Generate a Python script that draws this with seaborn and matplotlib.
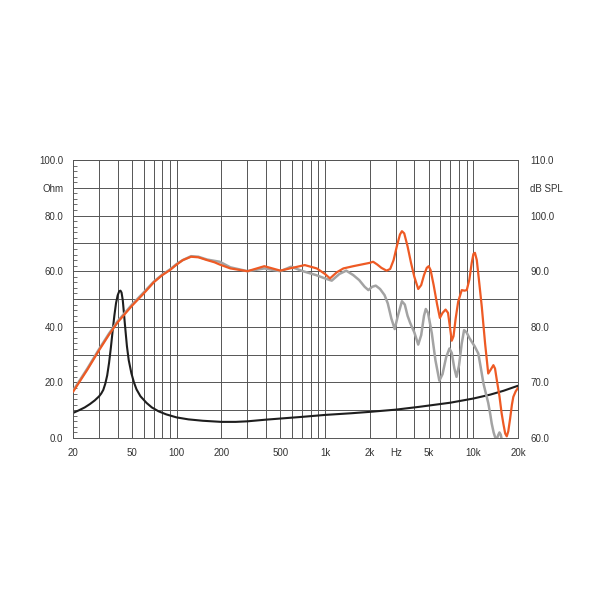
import pandas as pd
import matplotlib
matplotlib.use('Agg')
import matplotlib.pyplot as plt
import seaborn as sns

# impedancia (Ohm)
frec_imp = [20, 22, 24, 26, 28, 30, 31, 32, 33, 34, 35, 36, 37, 38, 39, 40, 41, 41.8, 42.5,
            43.3, 44, 44.7, 45.5, 46.2, 47.5, 49.5, 51.5, 53.6, 57, 62.7, 68, 75.5, 85, 100,
            120, 150, 200, 250, 300, 400, 500, 700, 1000, 1500, 2000, 3000, 4300, 7000,
            10000, 13000, 16000, 20000]
ohm = [9.0, 10.0, 11.0, 12.2, 13.5, 15.0, 16.0, 17.3, 19.5, 22.5, 27.0, 32.5, 38.5, 44.0,
       48.5, 51.3, 52.8, 53.0, 52.3, 49.6, 45.5, 41.3, 36.8, 33.0, 28.0, 23.3, 20.0, 17.5,
       15.0, 12.6, 11.0, 9.6, 8.5, 7.4, 6.7, 6.2, 5.8, 5.8, 6.0, 6.6, 7.0, 7.6, 8.3, 8.9,
       9.4, 10.2, 11.2, 12.7, 14.2, 15.6, 17.0, 18.8]

# respuesta naranja (dB SPL)
frec_nar = [20, 25, 30, 35, 40, 50, 60, 70, 80, 90, 100, 110, 125, 140, 160, 180, 195, 230,
            300, 390, 500, 580, 730, 880, 1000, 1080, 1200, 1330, 1550, 2000, 2110, 2250,
            2400, 2600, 2750, 2900, 3050, 3200, 3300, 3420, 3600, 3800, 4000, 4250, 4450,
            4650, 4850, 5000, 5150, 5400, 5700, 5950, 6200, 6500, 6750, 6950, 7150, 7350,
            7600, 7900, 8350, 8700, 9030, 9400, 9750, 10010, 10250, 10550, 10900, 11400,
            12000, 12600, 13100, 13650, 14000, 14400, 15000, 15500, 15950, 16400, 16800,
            17200, 17700, 18200, 18600, 19300, 20000]
spl_nar = [68.3, 72.3, 75.8, 78.6, 80.8, 83.8, 86.0, 88.0, 89.3, 90.2, 91.2, 92.0, 92.6, 92.5,
           92.0, 91.6, 91.2, 90.5, 90.0, 90.9, 90.1, 90.5, 91.1, 90.5, 89.5, 88.7, 89.8,
           90.5, 90.9, 91.5, 91.7, 91.2, 90.6, 90.1, 90.4, 92.0, 94.5, 96.6, 97.2, 96.8,
           94.5, 91.5, 89.0, 86.8, 87.5, 89.3, 90.6, 90.9, 90.2, 87.5, 84.0, 81.6, 82.5,
           83.1, 82.5, 80.0, 77.5, 78.3, 81.5, 84.5, 86.6, 86.5, 86.6, 88.5, 91.5, 93.1,
           93.3, 92.0, 88.5, 83.6, 77.0, 71.6, 72.3, 73.1, 72.5, 70.4, 67.5, 64.5, 62.5,
           60.8, 60.3, 61.2, 63.5, 66.0, 67.4, 68.4, 69.0]

# respuesta gris (dB SPL)
frec_gris = [20, 25, 30, 35, 40, 50, 60, 70, 80, 90, 100, 110, 125, 140, 160, 195, 230, 300,
             390, 500, 590, 710, 870, 1000, 1110, 1250, 1390, 1550, 1700, 1850, 1960, 2080,
             2200, 2350, 2520, 2650, 2800, 2950, 3100, 3300, 3450, 3600, 3750, 4000, 4250,
             4450, 4650, 4780, 4950, 5250, 5550, 5900, 6200, 6550, 6900, 7150, 7450, 7700,
             8000, 8350, 8660, 9000, 9400, 9760, 10200, 10800, 11200, 11700, 12200, 12600,
             13000, 13300, 13700, 14000, 14400, 14700, 15000, 15300, 15600, 16500, 20000]
spl_gris = [68.5, 72.5, 76.0, 78.8, 81.0, 84.0, 86.2, 88.1, 89.4, 90.3, 91.3, 92.0, 92.7, 92.6,
            92.1, 91.7, 90.7, 90.0, 90.5, 90.0, 90.8, 90.0, 89.3, 88.7, 88.3, 89.5, 90.1,
            89.3, 88.4, 87.2, 86.6, 87.2, 87.4, 86.8, 85.7, 84.2, 81.5, 79.6, 82.0, 84.6,
            84.0, 82.0, 80.7, 79.0, 76.8, 78.5, 82.0, 83.2, 82.5, 78.8, 74.0, 70.3, 71.5,
            74.5, 76.1, 75.3, 72.5, 71.0, 73.0, 77.0, 79.4, 79.0, 78.0, 77.3, 76.5, 75.2,
            72.8, 69.8, 67.8, 66.3, 64.3, 62.6, 61.0, 60.2, 59.8, 60.5, 61.0, 60.6, 59.5,
            57.0, 54.0]

# ejes
grid_x = [20, 30, 40, 50, 60, 70, 80, 90, 100, 200, 300, 400, 500, 600, 700, 800, 900,
          1000, 2000, 3000, 4000, 5000, 6000, 7000, 8000, 9000, 10000, 20000]
etiquetas_x = {20: '20', 50: '50', 100: '100', 200: '200', 500: '500', 1000: '1k',
               2000: '2k', 3000: 'Hz', 5000: '5k', 10000: '10k', 20000: '20k'}
etiquetas_izq = {0: '0.0', 20: '20.0', 40: '40.0', 60: '60.0', 80: '80.0', 90: 'Ohm', 100: '100.0'}
etiquetas_der = {60: '60.0', 70: '70.0', 80: '80.0', 90: '90.0', 100: '100.0', 105: 'dB SPL', 110: '110.0'}

sns.set_style('white')
plt.rcParams['font.family'] = ['Liberation Sans', 'DejaVu Sans']

df_imp = pd.DataFrame({'frec': frec_imp, 'valor': ohm})
df_nar = pd.DataFrame({'frec': frec_nar, 'valor': spl_nar})
df_gris = pd.DataFrame({'frec': frec_gris, 'valor': spl_gris})

fig = plt.figure(figsize=(6.05, 6.05), dpi=100)
ax = fig.add_axes([73 / 605, 1 - 438 / 605, 445 / 605, 278 / 605])
ax2 = ax.twinx()

color_grid = '#555555'
color_txt = '#333333'

ax.set_xscale('log')
ax.set_xlim(20, 20000)
ax.set_ylim(0, 100)
ax.set_xticks(grid_x)
ax.set_xticks([], minor=True)
ax.set_xticklabels([etiquetas_x.get(f, '') for f in grid_x])
ax.set_yticks(list(range(0, 101, 10)))
ax.set_yticklabels([etiquetas_izq.get(v, '') for v in range(0, 101, 10)])
ax.set_yticks(list(range(0, 101, 2)), minor=True)
ax.grid(True, which='major', color=color_grid, lw=0.7)
ax.tick_params(axis='x', which='major', length=3, color=color_grid, labelsize=7,
               labelcolor=color_txt, pad=4)
ax.tick_params(axis='y', which='major', length=0, labelsize=7, labelcolor=color_txt, pad=7)
ax.tick_params(axis='y', which='minor', length=3, direction='in', color=color_grid, width=0.6)
for s in ax.spines.values():
    s.set_color(color_grid)
    s.set_linewidth(0.7)

sns.lineplot(data=df_imp, x='frec', y='valor', ax=ax, color='#1e1e1e', lw=1.5, sort=False)
ax.set_xlabel('')
ax.set_ylabel('')

sns.lineplot(data=df_gris, x='frec', y='valor', ax=ax2, color='#a3a3a3', lw=1.8, sort=False)
sns.lineplot(data=df_nar, x='frec', y='valor', ax=ax2, color='#ee5a24', lw=1.6, sort=False)
ax2.set_ylim(60, 110)
ax2.set_xlim(20, 20000)
ax2.set_yticks(list(range(60, 111, 5)))
ax2.set_yticklabels([etiquetas_der.get(v, '') for v in range(60, 111, 5)])
ax2.tick_params(axis='y', length=0, labelsize=7, labelcolor=color_txt, pad=9)
ax2.set_xlabel('')
ax2.set_ylabel('')
for s in ax2.spines.values():
    s.set_visible(False)

fig.savefig('out.png', dpi=100, facecolor='white')
